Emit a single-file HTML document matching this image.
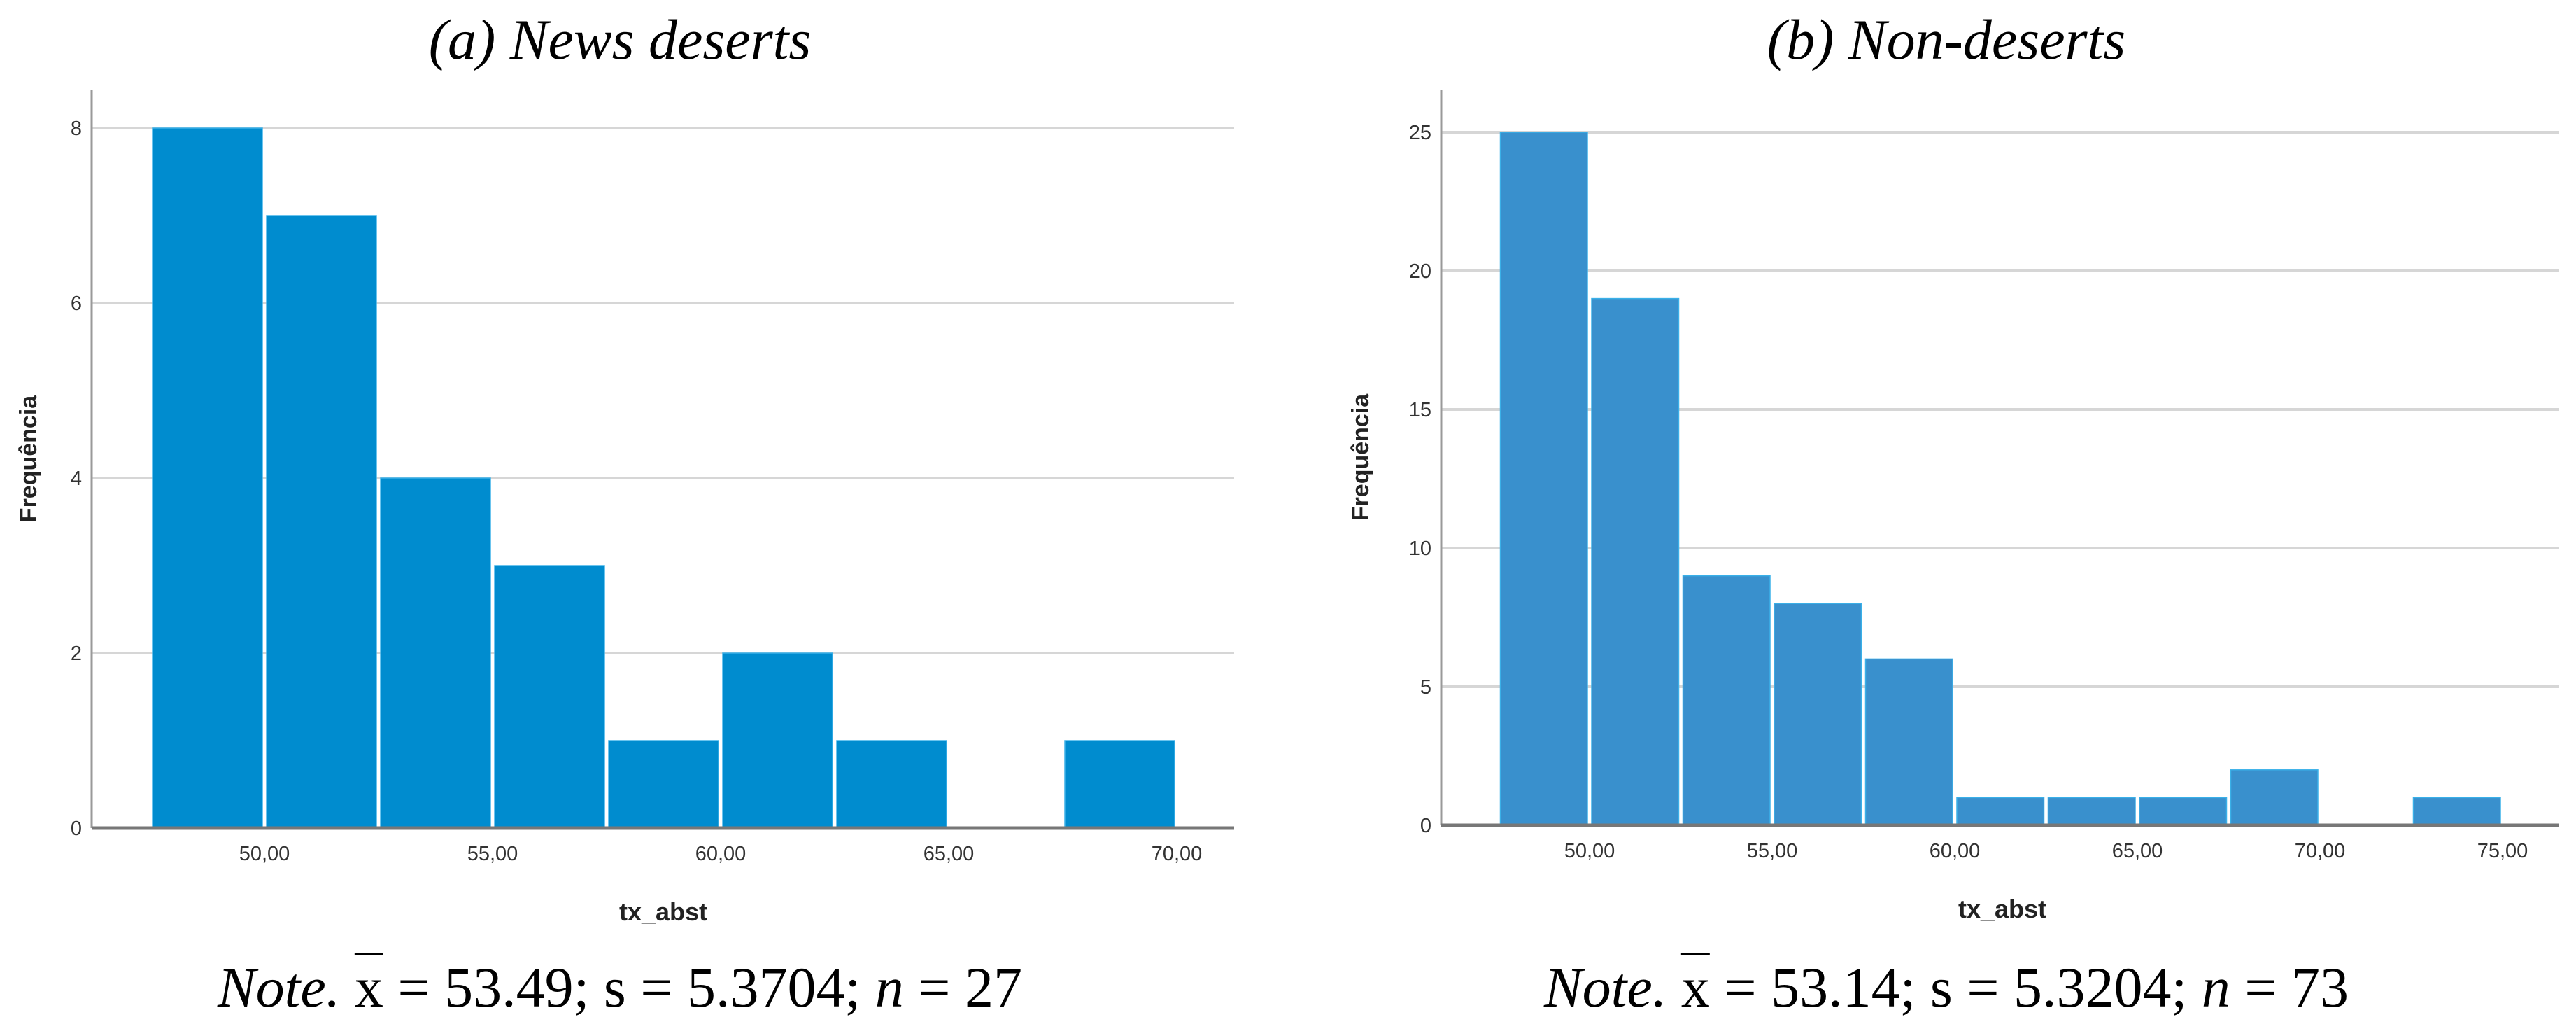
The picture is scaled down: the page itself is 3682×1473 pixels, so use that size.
<!DOCTYPE html>
<html><head><meta charset="utf-8"><style>
html,body{margin:0;padding:0;background:#fff;width:3682px;height:1473px;overflow:hidden}
.t{position:absolute;font-family:"Liberation Serif",serif;font-size:82px;color:#000;white-space:nowrap;transform:translateX(-50%);z-index:2}
.ov{text-decoration:overline;text-decoration-thickness:3px}
</style></head><body>
<svg id="svg" width="3682" height="1473" style="position:absolute;left:0;top:0" xmlns="http://www.w3.org/2000/svg"></svg>
<div class="t" style="left:886px;top:10px;font-style:italic">(a) News deserts</div>
<div class="t" style="left:2782px;top:10px;font-style:italic">(b) Non-deserts</div>
<div class="t" style="left:886px;top:1364px"><i>Note.</i> <span class="ov">x</span> = 53.49; s = 5.3704; <i>n</i> = 27</div>
<div class="t" style="left:2782px;top:1364px"><i>Note.</i> <span class="ov">x</span> = 53.14; s = 5.3204; <i>n</i> = 73</div>
<script>
const binsA=[47.5,50,52.5,55,57.5,60,62.5,65,67.5];
const countsA=[8,7,4,3,1,2,1,0,1];
const yTicksA=[0,2,4,6,8];
const xTicksA=[50,55,60,65,70];
const xLabelsA=["50,00","55,00","60,00","65,00","70,00"];
const binsB=[47.5,50,52.5,55,57.5,60,62.5,65,67.5,70,72.5];
const countsB=[25,19,9,8,6,1,1,1,2,0,1];
const yTicksB=[0,5,10,15,20,25];
const xTicksB=[50,55,60,65,70,75];
const xLabelsB=["50,00","55,00","60,00","65,00","70,00","75,00"];
const binW=2.5;
const svg=document.getElementById('svg');
const NS='http://www.w3.org/2000/svg';
function mk(tag,attrs,parent){const e=document.createElementNS(NS,tag);for(const k in attrs)e.setAttribute(k,attrs[k]);(parent||svg).appendChild(e);return e;}
function chart(cfg){
  const g=mk('g',{});
  
  
  const X=v=>cfg.x50+(v-50)*cfg.xu;
  const Y=v=>cfg.y0-v*cfg.yu;
  cfg.yTicks.forEach(t=>{
    if(t>0){const l=mk('line',{x1:cfg.axX,x2:cfg.axR,y1:Y(t),y2:Y(t),stroke:'#d6d6d6','stroke-width':4},g);
    
    }
    const tx=mk('text',{x:cfg.axX-14,y:Y(t)+10,'text-anchor':'end','font-family':'Liberation Sans, sans-serif','font-size':29,fill:'#333'},g);
    tx.textContent=t;
    
    
  });
  const ax=mk('line',{x1:cfg.axX,x2:cfg.axX,y1:128,y2:cfg.y0,stroke:'#999','stroke-width':3},g);
  
  
  cfg.bins.forEach((b,i)=>{
    if(cfg.counts[i]<=0)return;
    const x1=X(b),x2=X(b+binW);
    const r=mk('rect',{x:x1+3,y:Y(cfg.counts[i]),width:x2-x1-6,height:cfg.y0-Y(cfg.counts[i]),fill:cfg.color,stroke:'#3ab0e8','stroke-width':1.5},g);
    
    
  });
  const bl=mk('line',{x1:cfg.axX,x2:cfg.axR,y1:cfg.y0,y2:cfg.y0,stroke:'#777','stroke-width':5},g);
  
  
  cfg.xTicks.forEach((t,i)=>{
    const tx=mk('text',{x:X(t),y:cfg.y0+46,'text-anchor':'middle','font-family':'Liberation Sans, sans-serif','font-size':29,fill:'#333'},g);
    tx.textContent=cfg.xLabels[i];
    
    
  });
  const xt=mk('text',{x:cfg.xtX,y:cfg.y0+132,'text-anchor':'middle','font-family':'Liberation Sans, sans-serif','font-size':36,'font-weight':'bold',fill:'#222'},g);
  xt.textContent='tx_abst';
  
  
  const yt=mk('text',{x:0,y:0,transform:`translate(${cfg.ytX},${(128+cfg.y0)/2}) rotate(-90)`,'text-anchor':'middle','font-family':'Liberation Sans, sans-serif','font-size':34,'font-weight':'bold',fill:'#222'},g);
  yt.textContent='Frequência';
  
  
}
chart({name:'histogram-news-deserts',bins:binsA,counts:countsA,yTicks:yTicksA,xTicks:xTicksA,xLabels:xLabelsA,
  x50:378,xu:65.2,y0:1183,yu:125,axX:131,axR:1764,color:'#008ccf',xtX:948,ytX:52});
chart({name:'histogram-non-deserts',bins:binsB,counts:countsB,yTicks:yTicksB,xTicks:xTicksB,xLabels:xLabelsB,
  x50:2272,xu:52.2,y0:1179,yu:39.6,axX:2060,axR:3658,color:'#3990cd',xtX:2862,ytX:1956});
</script>
</body></html>
